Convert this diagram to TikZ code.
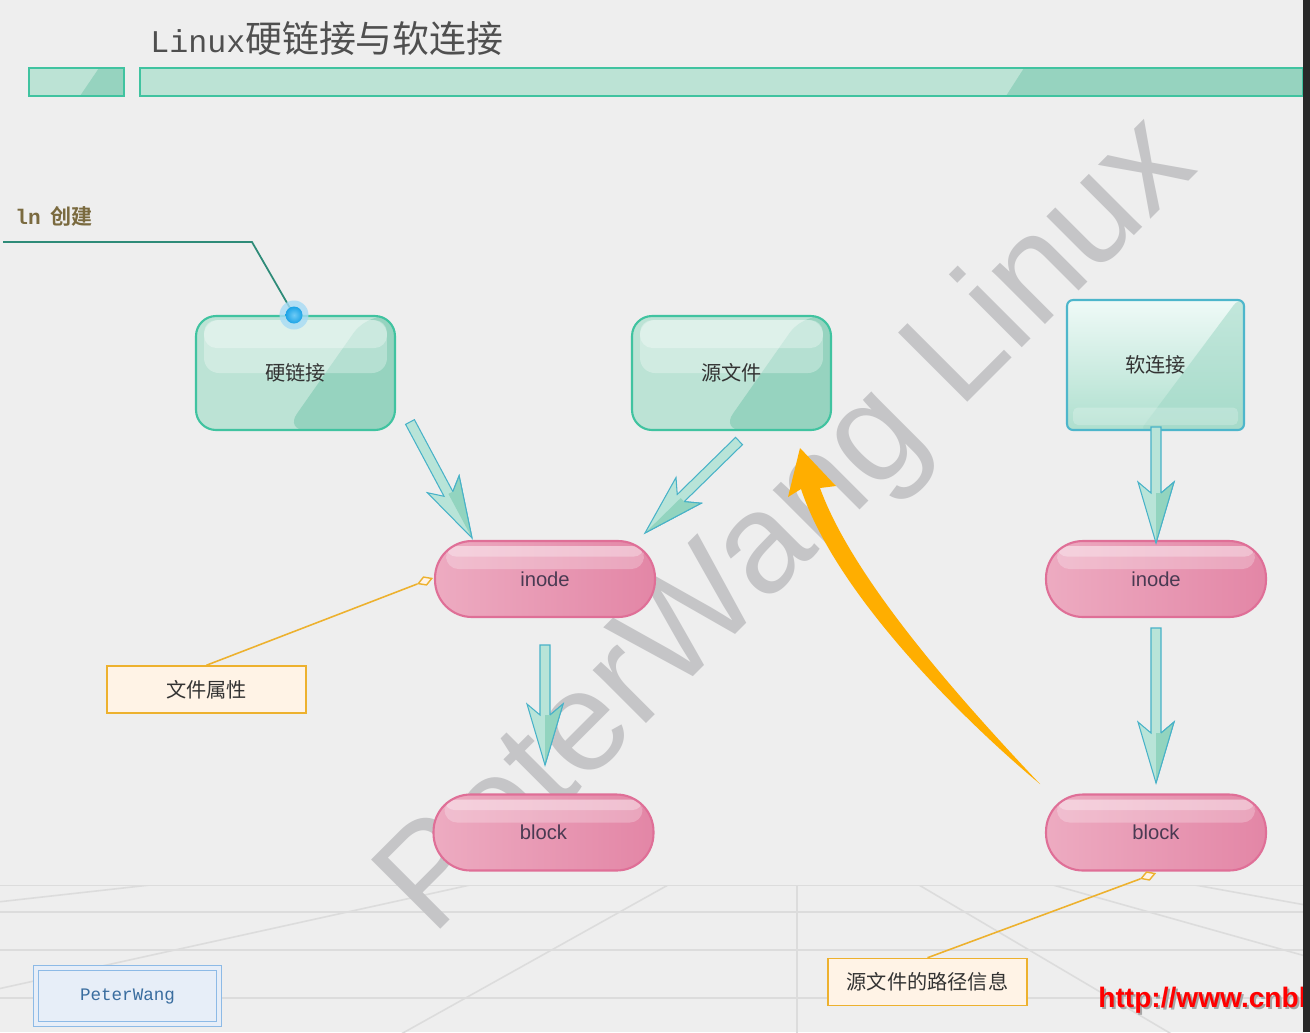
\documentclass[tikz,border=0pt]{standalone}
\usepackage{fontspec}
\usetikzlibrary{calc,shapes.geometric}
\newfontfamily\cjk{Noto Sans CJK SC}[BoldFont={Noto Sans CJK SC Bold}]
\newfontfamily\arialfont{Liberation Sans}
\newfontfamily\codefont{Liberation Mono}

\definecolor{bgcolor}{HTML}{EEEEEE}
\definecolor{floorcolor}{HTML}{DCDCDC}
\definecolor{marktext}{HTML}{C5C5C7}
\definecolor{tealedge}{HTML}{40C3A0}
\definecolor{tealfill}{HTML}{BCE3D5}
\definecolor{tealdark}{HTML}{96D3BF}
\definecolor{softedge}{HTML}{4DB6CB}
\definecolor{softtop}{HTML}{EFFAF7}
\definecolor{softbottom}{HTML}{AEDFCE}
\definecolor{softdark}{HTML}{9FD8C6}
\definecolor{pinkedge}{HTML}{DF6F97}
\definecolor{pinkleft}{HTML}{EDABC1}
\definecolor{pinkright}{HTML}{E386A6}
\definecolor{pinktext}{HTML}{4A3A52}
\definecolor{nodetext}{HTML}{333333}
\definecolor{arrowlight}{HTML}{B8E4D8}
\definecolor{arrowdark}{HTML}{92D4BF}
\definecolor{arrowedge}{HTML}{48B2C8}
\definecolor{orangeline}{HTML}{EDB12E}
\definecolor{calloutfill}{HTML}{FFF3E6}
\definecolor{arroworange}{HTML}{FFAE00}
\definecolor{authoredge}{HTML}{8DBAE6}
\definecolor{authorfill}{HTML}{E7EEF8}
\definecolor{authortext}{HTML}{3A6D9F}
\definecolor{lncolor}{HTML}{7A6A3F}
\definecolor{lnlinecolor}{HTML}{2E8B78}
\definecolor{dotblue}{HTML}{1BA3E6}
\definecolor{dotlight}{HTML}{6FCBF6}
\definecolor{dothalo}{HTML}{A6DBF5}
\definecolor{titletext}{HTML}{4F4F4F}
\definecolor{urlred}{HTML}{FF0000}
\definecolor{stripdark}{HTML}{282828}

% block arrow between two named coordinates
\newcommand\tealarrow[2]{%
  \filldraw[tealarrow]
    ($(#1)!0.1cm!90:(#2)$)
    -- ($(#2)!1cm!(#1)!0.1cm!-90:(#1)$)
    -- ($(#2)!1.22cm!(#1)!0.36cm!-90:(#1)$)
    -- (#2)
    -- ($(#2)!1.22cm!(#1)!0.36cm!90:(#1)$)
    -- ($(#2)!1cm!(#1)!0.1cm!90:(#1)$)
    -- ($(#1)!0.1cm!-90:(#2)$) -- cycle;
  \fill[arrowdark]
    (#2) -- ($(#2)!1.22cm!(#1)!0.36cm!-90:(#1)$)
    -- ($(#2)!1cm!(#1)!0.1cm!-90:(#1)$) -- ($(#2)!1cm!(#1)$) -- cycle;
  \draw[arrowedge, line width=0.6pt]
    (#2) -- ($(#2)!1.22cm!(#1)!0.36cm!-90:(#1)$)
    -- ($(#2)!1cm!(#1)!0.1cm!-90:(#1)$);
}

\begin{document}
\begin{tikzpicture}[x=0.02cm, y=-0.02cm,
  floor/.style={draw=floorcolor, line width=0.9pt},
  watermark/.style={font=\arialfont\fontsize{81}{81}\selectfont, text=marktext, inner sep=0},
  bar/.style={draw=tealedge, line width=1.1pt},
  tealbox/.style={rounded corners=0.4cm, minimum width=3.98cm, minimum height=2.28cm,
    draw=tealedge, line width=1.2pt, fill=tealfill, text=nodetext,
    font=\cjk\fontsize{11.5}{13}\selectfont,
    path picture={
      \fill[tealdark] ($(path picture bounding box.north)+(1.4cm,0)$)
        -- (path picture bounding box.north east) -- (path picture bounding box.south east)
        -- ($(path picture bounding box.south)+(-0.2cm,0)$) -- cycle;
      \fill[white, fill opacity=0.3, rounded corners=0.3cm]
        ($(path picture bounding box.north west)+(0.16cm,-0.08cm)$)
        rectangle ($(path picture bounding box.east)+(-0.16cm,0cm)$);
      \fill[white, fill opacity=0.3, rounded corners=0.25cm]
        ($(path picture bounding box.north west)+(0.16cm,-0.08cm)$)
        rectangle ($(path picture bounding box.east)+(-0.16cm,0.5cm)$);
    }},
  softbox/.style={rounded corners=0.12cm, minimum width=3.54cm, minimum height=2.6cm,
    draw=softedge, line width=1.2pt, top color=softtop, bottom color=softbottom, text=nodetext,
    font=\cjk\fontsize{11.5}{13}\selectfont,
    path picture={
      \fill[softdark, fill opacity=0.55] ($(path picture bounding box.north)+(1.64cm,0)$)
        -- (path picture bounding box.north east) -- (path picture bounding box.south east)
        -- ($(path picture bounding box.south)+(-0.3cm,0)$) -- cycle;
      \fill[white, fill opacity=0.22, rounded corners=0.1cm]
        ($(path picture bounding box.south west)+(0.12cm,0.1cm)$)
        rectangle ($(path picture bounding box.south east)+(-0.12cm,0.45cm)$);
    }},
  pill/.style={rounded corners=0.74cm, minimum width=4.4cm, minimum height=1.52cm,
    draw=pinkedge, line width=1.2pt, left color=pinkleft, right color=pinkright, text=pinktext,
    font=\arialfont\fontsize{11.5}{13}\selectfont,
    path picture={
      \fill[white, fill opacity=0.25, rounded corners=0.25cm]
        ($(path picture bounding box.north west)+(0.22cm,-0.1cm)$)
        rectangle ($(path picture bounding box.east)+(-0.22cm,0.2cm)$);
      \fill[white, fill opacity=0.3, rounded corners=0.2cm]
        ($(path picture bounding box.north west)+(0.22cm,-0.1cm)$)
        rectangle ($(path picture bounding box.east)+(-0.22cm,0.45cm)$);
    }},
  callout/.style={draw=orangeline, fill=calloutfill, line width=0.9pt,
    minimum width=3.98cm, minimum height=0.94cm, text=nodetext,
    font=\cjk\fontsize{11.5}{13}\selectfont},
  calloutline/.style={draw=orangeline, line width=0.9pt},
  tip/.style={diamond, draw=orangeline, fill=calloutfill, line width=0.8pt, inner sep=0,
    minimum width=0.3cm, minimum height=0.18cm},
  author/.style={draw=authoredge, double=authorfill, double distance=0.07cm, line width=0.5pt,
    fill=authorfill, minimum width=3.66cm, minimum height=1.12cm, text=authortext,
    font=\codefont\fontsize{10}{12}\selectfont},
  tealarrow/.style={fill=arrowlight, draw=arrowedge, line width=0.6pt, line join=miter},
  bigarrow/.style={fill=arroworange},
  url/.style={anchor=base west, inner sep=0, font=\arialfont\bfseries\fontsize{16}{18}\selectfont}]

\fill[bgcolor] (0,0) rectangle (1310,1032);
\useasboundingbox (0,0) rectangle (1310,1032);

% floor grid
\begin{scope}
\clip (0,885) rectangle (1303,1032);
\foreach \yy in {885,912,950,998}
  \draw[floor] (0,\yy) -- (1303,\yy);
\foreach \xx in {-1400,-700,-250,150,470,668,797,919,1053,1195,1420,1800}
  \draw[floor] (797,813) -- ($(797,813)!4!(\xx,885)$);
\end{scope}

\node[watermark, anchor=base west, rotate=45] (mark) at (432,938) {PeterWang Linux};

% title
\fill[tealfill] (29,68) rectangle (124,96);
\fill[tealdark] (99,68) -- (124,68) -- (124,96) -- (80,96) -- cycle;
\draw[bar] (29,68) rectangle (124,96);
\fill[tealfill] (140,68) rectangle (1303,96);
\fill[tealdark] (1024,68) -- (1303,68) -- (1303,96) -- (1006,96) -- cycle;
\draw[bar] (140,68) rectangle (1303,96);
\node[anchor=base west, inner sep=0, text=titletext] (title) at (150,52)
  {{\codefont\fontsize{18}{20}\selectfont Linux}{\cjk\fontsize{21}{24}\selectfont 硬链接与软连接}};

% ln label
\node[anchor=base west, inner sep=0, text=lncolor] (lnlabel) at (15,224)
  {{\codefont\bfseries\fontsize{12}{14}\selectfont ln\,} {\cjk\bfseries\fontsize{12}{14}\selectfont 创建}};
\coordinate (lnstart) at (3,242);
\coordinate (lnbend) at (252,242);
\coordinate (lnend) at (294,315);

\node[tealbox] (hard) at (295.5,373) {硬链接};
\node[tealbox] (src) at (731.5,373) {源文件};
\node[softbox] (soft) at (1155.5,365) {软连接};

\draw[lnlinecolor, line width=1pt] (lnstart) -- (lnbend) -- (lnend);
\node[circle, fill=dothalo, fill opacity=0.8, minimum size=0.58cm, inner sep=0] (lnhalo) at (lnend) {};
\node[circle, inner color=dotlight, outer color=dotblue, minimum size=0.34cm, inner sep=0] (lndot) at (lnend) {};

\node[pill] (inodeL) at (545,579) {inode};
\node[pill] (blockL) at (543.5,832.5) {block};
\node[pill] (inodeR) at (1156,579) {inode};
\node[pill] (blockR) at (1156,832.5) {block};

% callouts
\node[callout] (attr) at (206.5,689.5) {文件属性};
\node[callout] (path) at (927.5,982) {源文件的路径信息};
\node[tip, rotate=21] (attrtip) at (425,581) {};
\node[tip, rotate=20] (pathtip) at (1148,876) {};
\draw[calloutline] (attr.north) -- (attrtip);
\draw[calloutline] (path.north) -- (pathtip);

\node[author] (author) at (127.5,996) {PeterWang};

% arrows
\coordinate (a1s) at (410,422);
\coordinate (a1e) at (472,538);
\coordinate (a2s) at (739,441);
\coordinate (a2e) at (645,533);
\coordinate (a3s) at (545,645);
\coordinate (a3e) at (545,765);
\coordinate (a4s) at (1156,427);
\coordinate (a4e) at (1156,543);
\coordinate (a5s) at (1156,628);
\coordinate (a5e) at (1156,783);
\tealarrow{a1s}{a1e}
\tealarrow{a2s}{a2e}
\tealarrow{a3s}{a3e}
\tealarrow{a4s}{a4e}
\tealarrow{a5s}{a5e}

\coordinate (bigtail) at (1040,784);
\coordinate (bigtip) at (800,448);
\fill[bigarrow] (bigtail) .. controls (975,730) and (838,600) .. (801,489)
  -- (788,497) -- (bigtip) -- (836,486) -- (820,488)
  .. controls (855,585) and (975,715) .. (bigtail) -- cycle;

% url
\begin{scope}
\clip (0,0) rectangle (1303,1032);
\node[url, text=black!35] (urlshade) at (1100,1009) {http://www.cnbl};
\node[url, text=urlred] (url) at (1098,1007) {http://www.cnbl};
\end{scope}
\fill[stripdark] (1303,0) rectangle (1310,1032);
\end{tikzpicture}
\end{document}
